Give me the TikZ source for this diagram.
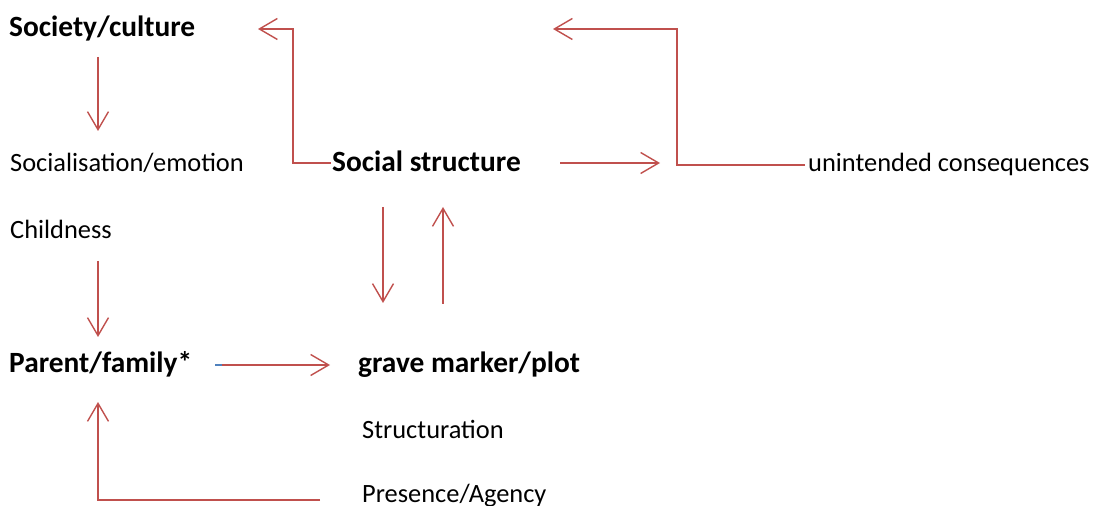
\documentclass[tikz,border=0pt]{standalone}
\usepackage{fontspec}
\setmainfont{Carlito}
\usetikzlibrary{arrows.meta}
\definecolor{arrred}{RGB}{192,80,77}
\definecolor{tinyblue}{RGB}{79,129,189}
\tikzset{
  lbl/.style={anchor=base west,inner sep=0pt,font=\fontsize{26.5}{30}\selectfont},
  blbl/.style={lbl,font=\fontsize{29.5}{33}\selectfont\bfseries},
  conn/.style={draw=arrred,line width=1.4bp,-{Straight Barb[length=18bp,width=21bp,line width=1.4bp]}},
  plain/.style={draw=arrred,line width=1.4bp}
}
\begin{document}
\begin{tikzpicture}[x=1bp,y=-1bp]
\useasboundingbox (0,0) rectangle (1093,506);
% texts
\node[blbl] (soc) at (9,37) {Society/culture};
\node[lbl] (sem) at (10,172) {Socialisation/emotion};
\node[lbl] (chi) at (10,239) {Childness};
\node[blbl] (par) at (9,373) {Parent/family*};
\node[blbl] (sst) at (332,172) {Social structure};
\node[lbl] (unc) at (808,172) {unintended consequences};
\node[blbl] (gmp) at (358,373) {grave marker/plot};
\node[lbl] (str) at (362,438) {Structuration};
\node[lbl] (pra) at (362,502) {Presence/Agency};
% coordinates
\coordinate (a1s) at (98,57);   \coordinate (a1e) at (98,131);
\coordinate (a2s) at (98,261);  \coordinate (a2e) at (98,337);
\coordinate (a3s) at (320,500); \coordinate (a3c) at (98,500); \coordinate (a3e) at (98,402);
\coordinate (a4s) at (222,365); \coordinate (a4e) at (330,365); \coordinate (a4b) at (215,365);
\coordinate (a5s) at (331,163); \coordinate (a5c1) at (293,163); \coordinate (a5c2) at (293,29); \coordinate (a5e) at (258,29);
\coordinate (a6s) at (560,163); \coordinate (a6e) at (660,163);
\coordinate (a7s) at (805,165); \coordinate (a7c1) at (677,165); \coordinate (a7c2) at (677,29); \coordinate (a7e) at (553,29);
\coordinate (a8s) at (383,207); \coordinate (a8e) at (383,303);
\coordinate (a9s) at (443,304); \coordinate (a9e) at (443,207);
% connectors
\draw[conn] (a1s) -- (a1e);
\draw[conn] (a2s) -- (a2e);
\draw[conn] (a3s) -- (a3c) -- (a3e);
\draw[tinyblue,line width=1.4bp] (a4b) -- (a4s);
\draw[conn] (a4s) -- (a4e);
\draw[conn] (a5s) -- (a5c1) -- (a5c2) -- (a5e);
\draw[conn] (a6s) -- (a6e);
\draw[conn] (a7s) -- (a7c1) -- (a7c2) -- (a7e);
\draw[conn] (a8s) -- (a8e);
\draw[conn] (a9s) -- (a9e);
\end{tikzpicture}
\end{document}
